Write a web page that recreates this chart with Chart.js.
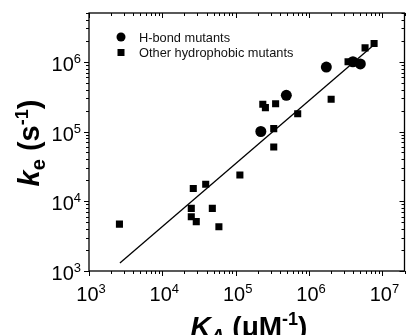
<!DOCTYPE html>
<html>
<head>
<meta charset="utf-8">
<script src="https://cdn.jsdelivr.net/npm/chart.js@4/dist/chart.umd.min.js"></script>
<style>
  html, body { margin: 0; padding: 0; background: #fff; }
  #c { display: block; }
</style>
</head>
<body>
<canvas id="c" width="410" height="335"></canvas>
<script>
// H-bond mutants (circles)
const hbondKA = [2.2e5, 4.9e5, 1.72e6, 3.96e6, 5.0e6];
const hbondKe = [1.0e5, 3.3e5, 8.4e5, 1.0e6, 9.3e5];

// Other hydrophobic mutants (squares)
const otherKA = [2.6e3, 2.64e4, 3.9e4, 2.48e4, 2.48e4, 2.9e4, 4.8e4, 5.9e4, 1.14e5,
  2.34e5, 2.54e5, 3.5e5, 3.3e5, 3.3e5, 7.0e5, 2.0e6, 3.4e6, 5.8e6, 7.7e6];
const otherKe = [4.7e3, 1.52e4, 1.75e4, 7.9e3, 6.0e3, 5.1e3, 7.9e3, 4.3e3, 2.38e4,
  2.46e5, 2.2e5, 2.5e5, 1.1e5, 6.0e4, 1.8e5, 2.9e5, 1.0e6, 1.58e6, 1.83e6];

// linear fit on log-log axes (end points)
const fitKA = [2.64e3, 8.05e6];
const fitKe = [1.3e3, 1.83e6];

const xTicks = [1e3, 1e4, 1e5, 1e6, 1e7];
const yTicks = [1e3, 1e4, 1e5, 1e6];
const legendLabels = ['H-bond mutants', 'Other hydrophobic mutants'];

const FONT = '"Liberation Sans", Arial, sans-serif';
const toXY = (xs, ys) => xs.map((x, i) => ({ x, y: ys[i] }));

// draw a row of text pieces (normal / sub / sup), starting at x
function drawPieces(ctx, pieces, x, y) {
  let cx = x;
  pieces.forEach(p => {
    ctx.font = p.font;
    ctx.fillText(p.text, cx, y + (p.dy || 0));
    cx += ctx.measureText(p.text).width;
  });
}
function piecesWidth(ctx, pieces) {
  return pieces.reduce((w, p) => { ctx.font = p.font; return w + ctx.measureText(p.text).width; }, 0);
}
function powPieces(v) {
  const e = Math.round(Math.log10(v));
  return [
    { text: '10', font: `20px ${FONT}` },
    { text: String(e), font: `13px ${FONT}`, dy: -8 },
  ];
}

// log ticks 1..9 x 10^n inside [min, max]
function logTicks(min, max) {
  const out = [];
  for (let d = Math.floor(Math.log10(min)); d <= Math.ceil(Math.log10(max)); d++) {
    for (let m = 1; m <= 9; m++) {
      const v = m * Math.pow(10, d);
      if (v >= min * 0.999 && v <= max * 1.001) out.push({ v, major: m === 1 });
    }
  }
  return out;
}

const framePlugin = {
  id: 'frame',
  beforeDatasetsDraw(chart) {
    const { ctx, chartArea: a, scales: { x, y } } = chart;
    ctx.save();
    ctx.strokeStyle = '#000';
    ctx.lineWidth = 1.3;
    ctx.strokeRect(a.left, a.top, a.right - a.left, a.bottom - a.top);

    ctx.lineWidth = 1;
    ctx.beginPath();
    logTicks(x.min, x.max).forEach(t => {
      const px = Math.round(x.getPixelForValue(t.v)) + 0.5;
      const len = t.major ? 5 : 3;
      ctx.moveTo(px, a.bottom); ctx.lineTo(px, a.bottom + len);   // bottom, outward
      ctx.moveTo(px, a.top); ctx.lineTo(px, a.top + len);         // top, inward
    });
    logTicks(y.min, y.max).forEach(t => {
      const py = Math.round(y.getPixelForValue(t.v)) + 0.5;
      const len = t.major ? 5 : 3;
      ctx.moveTo(a.left, py); ctx.lineTo(a.left - len, py);       // left, outward
      ctx.moveTo(a.right, py); ctx.lineTo(a.right - len, py);     // right, inward
    });
    ctx.stroke();
    ctx.restore();
  },
  afterDraw(chart) {
    const { ctx, scales: { x, y } } = chart;
    ctx.save();
    ctx.fillStyle = '#000';
    ctx.textBaseline = 'alphabetic';
    ctx.textAlign = 'left';

    // tick labels
    xTicks.forEach(v => {
      const p = powPieces(v);
      const w = piecesWidth(ctx, p);
      drawPieces(ctx, p, x.getPixelForValue(v) - w / 2 + 2, 301);
    });
    yTicks.forEach(v => {
      const p = powPieces(v);
      const w = piecesWidth(ctx, p);
      drawPieces(ctx, p, 81 - w, y.getPixelForValue(v) + 9);
    });

    // x title: K_A (μM^-1)
    const xt = [
      { text: 'K', font: `italic bold 28px ${FONT}` },
      { text: 'A', font: `italic bold 19px ${FONT}`, dy: 6 },
      { text: ' (\u03bcM', font: `bold 28px ${FONT}` },
      { text: '-1', font: `bold 18px ${FONT}`, dy: -11 },
      { text: ')', font: `bold 28px ${FONT}` },
    ];
    drawPieces(ctx, xt, 249 - piecesWidth(ctx, xt) / 2, 336);

    // y title: k_e (s^-1)
    const yt = [
      { text: 'k', font: `italic bold 29px ${FONT}` },
      { text: 'e', font: `bold 20px ${FONT}`, dy: 6 },
      { text: ' (s', font: `bold 29px ${FONT}` },
      { text: '-1', font: `bold 18px ${FONT}`, dy: -11 },
      { text: ')', font: `bold 29px ${FONT}` },
    ];
    ctx.save();
    ctx.translate(39, 143);
    ctx.rotate(-Math.PI / 2);
    drawPieces(ctx, yt, -piecesWidth(ctx, yt) / 2, 0);
    ctx.restore();

    // legend
    ctx.fillStyle = '#000';
    ctx.beginPath();
    ctx.arc(121, 37, 4.5, 0, Math.PI * 2);
    ctx.fill();
    ctx.fillRect(117.5, 49, 7, 7);
    ctx.fillStyle = '#111';
    ctx.font = `12.8px ${FONT}`;
    ctx.fillText(legendLabels[0], 139, 42);
    ctx.fillText(legendLabels[1], 139, 57);
    ctx.restore();
  },
};

new Chart(document.getElementById('c'), {
  type: 'scatter',
  data: {
    datasets: [
      {
        label: 'fit',
        type: 'line',
        data: toXY(fitKA, fitKe),
        borderColor: '#000',
        borderWidth: 1.3,
        pointRadius: 0,
        fill: false,
        order: 3,
      },
      {
        label: legendLabels[0],
        data: toXY(hbondKA, hbondKe),
        pointStyle: 'circle',
        pointRadius: 5.5,
        backgroundColor: '#000',
        borderColor: '#000',
        borderWidth: 0,
        order: 1,
      },
      {
        label: legendLabels[1],
        data: toXY(otherKA, otherKe),
        pointStyle: 'rect',
        pointRadius: 5,
        backgroundColor: '#000',
        borderColor: '#000',
        borderWidth: 0,
        order: 2,
      },
    ],
  },
  options: {
    responsive: false,
    animation: false,
    devicePixelRatio: 1,
    layout: { padding: { left: 89, right: 1, top: 13, bottom: 64 } },
    plugins: { legend: { display: false }, tooltip: { enabled: false } },
    scales: {
      x: { type: 'logarithmic', min: 1e3, max: 2e7, display: false },
      y: { type: 'logarithmic', min: 1e3, max: 5e6, display: false },
    },
  },
  plugins: [framePlugin],
});
</script>
</body>
</html>
